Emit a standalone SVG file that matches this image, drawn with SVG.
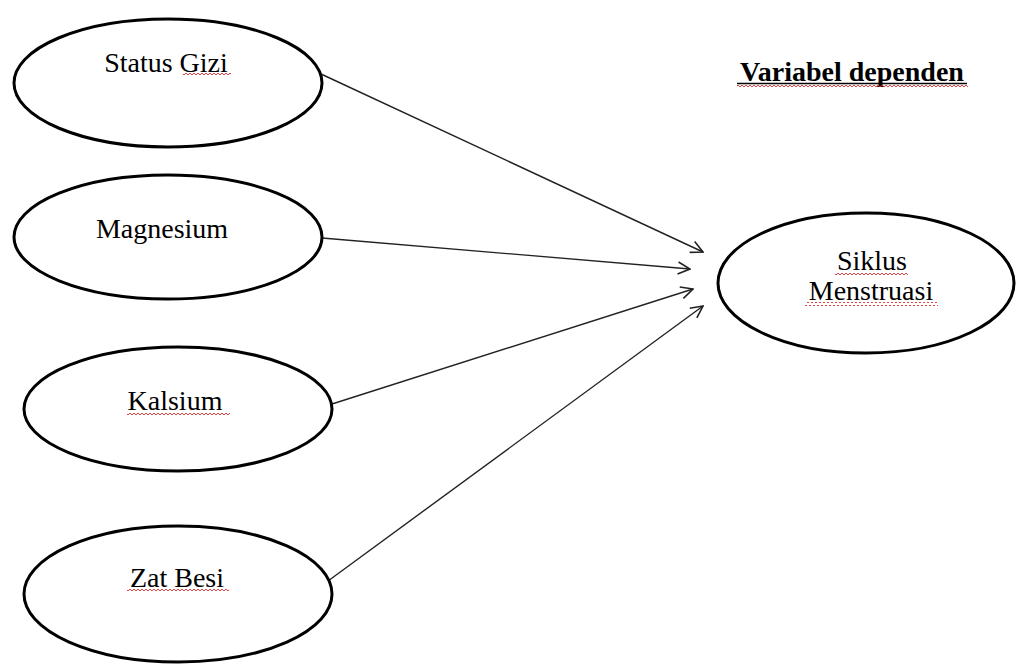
<svg xmlns="http://www.w3.org/2000/svg" width="1017" height="665" viewBox="0 0 1017 665">
<style>
.node ellipse{fill:#fff;stroke:#000;stroke-width:3}
text{font-family:"Liberation Serif","Times New Roman",serif;font-size:28px;fill:#000}
.b{font-weight:bold}
.edge{stroke:#222;stroke-width:1.4;fill:none;marker-end:url(#arr)}
.sq{fill:url(#squig)}
</style>
<defs>
<marker id="arr" viewBox="0 0 14 14" refX="13" refY="7" markerWidth="14" markerHeight="14" markerUnits="userSpaceOnUse" orient="auto">
<polyline points="1,1 13,7 1,13" fill="none" stroke="#222" stroke-width="1.6"/>
</marker>
<pattern id="squig" width="4" height="4" patternUnits="userSpaceOnUse">
<polyline points="0,3 2,1 4,3" fill="none" stroke="#e03030" stroke-width="0.9"/>
</pattern>
</defs>
<rect width="1017" height="665" fill="#fff"/>
<g id="connectors">
<line class="edge" x1="321" y1="74" x2="703" y2="252"/>
<line class="edge" x1="322" y1="238" x2="690" y2="269"/>
<line class="edge" x1="332" y1="404" x2="693" y2="289"/>
<line class="edge" x1="328" y1="581" x2="703" y2="306"/>
</g>
<g id="status-gizi" class="node">
<ellipse cx="168" cy="83" rx="154" ry="64"/>
<text x="166" y="72" text-anchor="middle">Status Gizi</text>
<rect class="sq" x="183" y="73" width="48" height="4"/>
</g>
<g id="magnesium" class="node">
<ellipse cx="168" cy="237" rx="154" ry="62"/>
<text x="162" y="238" text-anchor="middle">Magnesium</text>
</g>
<g id="kalsium" class="node">
<ellipse cx="178" cy="409" rx="154" ry="62"/>
<text x="175" y="410" text-anchor="middle">Kalsium</text>
<rect class="sq" x="127" y="412" width="103" height="4"/>
</g>
<g id="zat-besi" class="node">
<ellipse cx="178" cy="594" rx="154" ry="68"/>
<text x="177" y="587" text-anchor="middle">Zat Besi</text>
<rect class="sq" x="127" y="589" width="102" height="4"/>
</g>
<g id="siklus-menstruasi" class="node">
<ellipse cx="866" cy="283" rx="148" ry="70"/>
<text x="872" y="270" text-anchor="middle">Siklus</text>
<rect class="sq" x="835" y="272" width="73" height="4"/>
<text x="871" y="300" text-anchor="middle">Menstruasi</text>
<rect class="sq" x="805" y="302" width="133" height="4"/>
</g>
<g id="label-variabel">
<text class="b" x="852" y="81" text-anchor="middle">Variabel dependen</text>
<line x1="737" y1="83.5" x2="967" y2="83.5" stroke="#000" stroke-width="1.5"/>
<rect class="sq" x="737" y="84" width="231" height="4"/>
</g>
</svg>
